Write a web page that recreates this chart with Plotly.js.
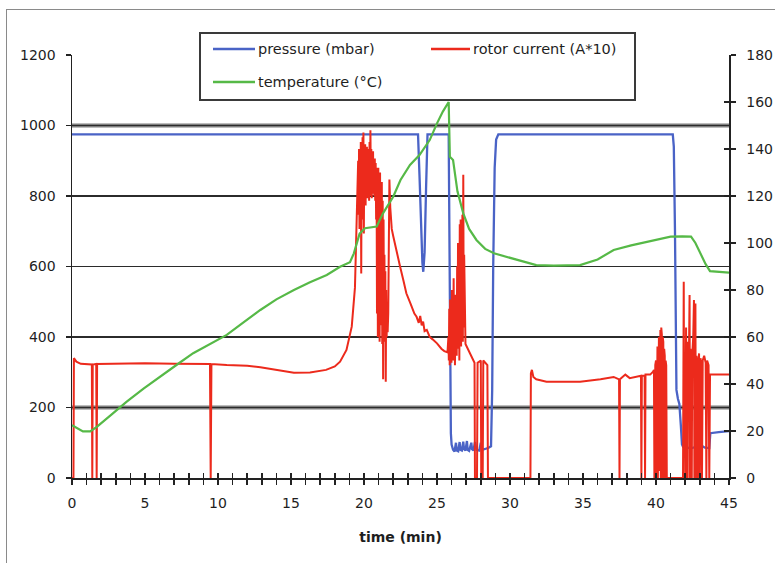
<!DOCTYPE html>
<html>
<head>
<meta charset="utf-8">
<script src="https://cdn.plot.ly/plotly-3.0.1.min.js"></script>
<style>
  html, body { margin: 0; padding: 0; background: #ffffff; }
  #frame { position: absolute; left: 6px; top: 9px; width: 800px; height: 600px;
           border-left: 1.5px solid #8a8a8a; border-top: 1.5px solid #8a8a8a; }
  #chart { position: absolute; left: 0; top: 0; width: 775px; height: 563px; }
</style>
</head>
<body>
<div id="frame"></div>
<div id="chart"></div>
<script>
// ---------------- data ----------------
const seriesNames = ["pressure (mbar)", "rotor current (A*10)", "temperature (\u00B0C)"];
const xTitle = "time (min)";

// pressure (left axis, mbar)
const pressureT = [0, 23.7, 23.8, 23.9, 24.0, 24.06, 24.15, 24.25, 24.35,
  25.8, 25.85, 25.9, 25.95, 26.0, 26.1, 26.2, 26.3, 26.35, 26.45,
  26.55, 26.6, 26.7, 26.8, 26.85, 26.95, 27.05, 27.1, 27.2, 27.35,
  27.4, 27.5, 27.6, 27.7, 27.9, 28.0, 28.1, 28.3, 28.5, 28.7,
  28.78, 28.85, 28.95, 29.05, 29.2,
  41.15, 41.22, 41.3, 41.4, 41.5, 41.6, 41.7, 41.78, 41.85,
  42.1, 42.4, 42.7, 42.85, 43.0, 43.35, 43.65, 43.72, 44.3, 45];
const pressureV = [975, 975, 860, 700, 610, 585, 640, 820, 975,
  975, 700, 300, 127, 95, 80, 75, 100, 78, 76,
  102, 80, 78, 103, 82, 78, 105, 80, 77, 100,
  82, 78, 102, 80, 78, 100, 80, 82, 85, 90,
  250, 600, 880, 960, 975,
  975, 940, 700, 250, 225, 210, 150, 95, 89,
  86, 84, 88, 130, 95, 86, 85, 127, 130, 133];

// temperature (right axis, deg C)
const tempT = [0, 0.75, 1.25, 1.7, 2.7, 3.75, 4.9, 6.0, 7.2, 8.3,
  9.5, 10.6, 11.7, 12.9, 14.0, 15.2, 16.3, 17.45, 18.36, 19.04,
  19.3, 19.7, 20.07, 20.5, 20.87, 21.3, 22.0, 22.5, 23.15, 23.8,
  24.5, 25.0, 25.4, 25.8, 25.88, 26.1, 26.4, 26.8, 27.2, 27.7,
  28.3, 28.9, 30.2, 31.8, 33.0, 34.8, 36.0, 37.1, 38.3, 39.4,
  40.3, 41.0, 41.8, 42.4, 42.7, 43.0, 43.4, 43.7, 45];
const tempV = [22.5, 19.8, 19.8, 21.8, 27, 32.5, 38, 43.1, 48.3, 53.1,
  57, 60.9, 66, 71.5, 76, 80, 83.3, 86.4, 89.9, 91.8,
  95.5, 104, 106.3, 106.8, 107, 112.6, 119.7, 126.8, 133.2, 137.4,
  143.8, 150.9, 155.9, 160, 136.7, 135.3, 122, 112.6, 106, 101.3,
  97.5, 95.6, 93.5, 90.6, 90.4, 90.6, 93, 97, 99, 100.6,
  102, 102.7, 102.8, 102.7, 100, 96, 91, 88, 87.4];

// rotor current (right axis, A*10)
const currentT = [
  0, 0.1, 0.13, 0.3, 0.6, 1.0, 1.36, 1.39, 1.42, 1.66,
  1.69, 1.72, 3, 5, 7, 9.45, 9.5, 9.55, 10.6, 12.0,
  12.9, 14.0, 15.2, 16.3, 17.4, 18.0, 18.36, 18.8, 19.16, 19.38,
  19.5, 19.6,
  19.63, 19.66, 19.69, 19.72, 19.75, 19.78, 19.81, 19.84, 19.87, 19.90,
  19.93, 19.96, 19.99, 20.02, 20.05, 20.08, 20.11, 20.14, 20.17, 20.20,
  20.23, 20.26, 20.29, 20.32, 20.35, 20.38, 20.41, 20.44, 20.47, 20.50,
  20.53, 20.56, 20.59, 20.62, 20.65, 20.68, 20.71, 20.74, 20.77, 20.80,
  20.83, 20.86,
  20.89, 20.92, 20.95, 20.98, 21.01, 21.04, 21.07, 21.10, 21.13, 21.16,
  21.19, 21.22, 21.25, 21.28, 21.31, 21.34, 21.37, 21.40, 21.43, 21.46,
  21.49, 21.52, 21.55, 21.58, 21.62, 21.66, 21.70, 21.74,
  21.8, 21.9, 22.0, 22.2, 22.47, 22.7, 22.9, 23.2, 23.45, 23.6,
  23.75, 23.85, 23.95, 24.05, 24.15, 24.3, 24.5, 24.7, 25.0, 25.3,
  25.5, 25.72,
  25.78, 25.81, 25.84, 25.87, 25.90, 25.93, 25.96, 25.99, 26.02, 26.05,
  26.08, 26.11, 26.14, 26.17, 26.20, 26.23, 26.26, 26.29, 26.32, 26.35,
  26.38, 26.41, 26.44, 26.47, 26.50, 26.53, 26.56, 26.59, 26.62, 26.65,
  26.68, 26.71, 26.74, 26.77, 26.80, 26.83, 26.86,
  26.95, 27.1, 27.26, 27.5, 27.57, 27.6, 27.74, 27.78, 28.0, 28.03,
  28.13, 28.17, 28.45, 28.49, 31.4, 31.43, 31.5, 31.6, 31.8, 32.5,
  34.8, 36.2, 37.1, 37.47, 37.5, 37.53, 37.9, 38.2, 38.6, 38.97,
  39.0, 39.03, 39.22, 39.25, 39.28, 39.6, 39.8, 39.86,
  39.89, 39.92, 39.95, 40.0, 40.03, 40.06, 40.1, 40.13, 40.16, 40.2,
  40.23, 40.26, 40.3, 40.33, 40.36, 40.4, 40.43, 40.46, 40.5, 40.53,
  40.56, 40.6, 40.63, 40.66, 40.7, 40.74, 41.85,
  41.9, 41.93, 41.96, 42.0, 42.03, 42.06, 42.1, 42.13, 42.17, 42.2,
  42.25, 42.3, 42.33, 42.36, 42.4, 42.45, 42.48, 42.55, 42.6, 42.63,
  42.67, 42.7, 42.73, 42.77, 42.82, 42.86, 42.9, 42.95, 43.0, 43.05,
  43.1, 43.15, 43.2, 43.3, 43.4, 43.45, 43.5, 43.6, 43.65, 43.7,
  45];
const currentV = [
  0, 0, 51, 49.5, 48.6, 48.4, 48.3, 0, 48.3, 48.5,
  0, 48.5, 48.7, 48.8, 48.6, 48.5, 0, 48.5, 48.1, 47.8,
  47.1, 46, 44.8, 44.9, 46, 47.5, 49.5, 54.5, 64.4, 81,
  111, 135,
  112, 140, 106, 138, 118, 143, 87, 140, 110, 145,
  115, 147, 104, 138, 120, 142, 116, 139, 121, 141,
  119, 136, 122, 140, 118, 143, 120, 148, 124, 140,
  119, 137, 121, 139, 122, 135, 120, 136, 118, 134,
  110, 132,
  70, 128, 60, 132, 75, 125, 58, 130, 65, 120,
  80, 126, 57, 118, 42, 110, 62, 95, 58, 88,
  41, 80, 60, 75, 62, 70, 100, 127,
  115, 106, 103, 97, 90, 84, 78.6, 74, 70, 68.6,
  66, 69, 65, 66.5, 62.5, 63, 60, 59, 57.3, 55,
  54, 53.5,
  60, 50, 72, 48, 76, 52, 70, 49, 80, 55,
  74, 50, 85, 53, 72, 48, 78, 56, 70, 52,
  90, 55, 100, 58, 95, 50, 108, 60, 110, 56,
  104, 62, 112, 58, 129, 64, 95,
  57, 55, 53, 50, 49, 0, 0, 49, 50, 0,
  0, 50, 48, 0, 0, 44.5, 46, 43, 42, 41,
  41, 42, 43, 42, 0, 42, 44, 42.5, 43, 43.5,
  0, 43.5, 43.5, 0, 44, 44, 45.2, 46,
  0, 0, 48, 50, 0, 52, 56, 0, 58, 60,
  3, 62, 63, 0, 64, 61, 0, 60, 58, 0,
  55, 52, 0, 50, 48, 0, 0,
  83.5, 10, 50, 0, 55, 64, 0, 52, 0, 58,
  48, 77.9, 0, 55, 50, 0, 52, 60, 75.7, 0,
  50, 74.3, 0, 52, 48, 0, 50, 53, 0, 51,
  48, 0, 50, 52, 49, 0, 50, 48, 0, 44,
  44];

const leftTicks = [0, 200, 400, 600, 800, 1000, 1200];
const rightTicks = [0, 20, 40, 60, 80, 100, 120, 140, 160, 180];

// ---------------- styling ----------------
const BLUE = '#4a63c6', RED = '#ec2a1c', GREEN = '#56b947';
const W = 775, H = 563, ML = 72, MR = 46, MT = 55, MB = 85;
const PW = W - ML - MR, PH = H - MT - MB;
const px = x => (x - ML) / PW;           // pixel -> paper x
const py = y => (H - MB - y) / PH;       // pixel -> paper y

const traces = [
  { x: pressureT, y: pressureV, name: seriesNames[0], type: 'scatter', mode: 'lines',
    line: { color: BLUE, width: 2.3 }, xaxis: 'x', yaxis: 'y', hoverinfo: 'skip' },
  { x: currentT, y: currentV, name: seriesNames[1], type: 'scatter', mode: 'lines',
    line: { color: RED, width: 2 }, xaxis: 'x', yaxis: 'y2', hoverinfo: 'skip' },
  { x: tempT, y: tempV, name: seriesNames[2], type: 'scatter', mode: 'lines',
    line: { color: GREEN, width: 2.2 }, xaxis: 'x', yaxis: 'y2', hoverinfo: 'skip' },
  // carrier for the inner halves of the crossing ticks
  { x: [null], y: [null], xaxis: 'x2', yaxis: 'y3', type: 'scatter', mode: 'lines',
    showlegend: false, hoverinfo: 'skip' }
];

const tickStyle = { ticklen: 5, tickwidth: 1.5, tickcolor: '#222' };
const axisFont = { family: 'DejaVu Sans', size: 14, color: '#1e1e1e' };

const legendFont = { family: 'DejaVu Sans', size: 14.5, color: '#1e1e1e' };
const legendRows = [
  { name: seriesNames[0], color: BLUE,  lx0: 213, lx1: 255, tx: 257, y: 49 },
  { name: seriesNames[1], color: RED,   lx0: 431, lx1: 470, tx: 472, y: 49 },
  { name: seriesNames[2], color: GREEN, lx0: 213, lx1: 255, tx: 257, y: 82 }
];

const shapes = [
  { type: 'line', xref: 'paper', yref: 'y', x0: 0, x1: 1, y0: 1000, y1: 1000,
    line: { color: '#7d7d7d', width: 4 }, layer: 'between' },
  { type: 'line', xref: 'paper', yref: 'y', x0: 0, x1: 1, y0: 200, y1: 200,
    line: { color: '#7d7d7d', width: 4 }, layer: 'between' },
  { type: 'rect', xref: 'paper', yref: 'paper', x0: px(200), x1: px(635), y0: py(100), y1: py(33),
    fillcolor: '#ffffff', line: { color: '#3a3a3a', width: 2 }, layer: 'above' }
];
const annotations = [];
legendRows.forEach(r => {
  shapes.push({ type: 'line', xref: 'paper', yref: 'paper', x0: px(r.lx0), x1: px(r.lx1),
    y0: py(r.y), y1: py(r.y), line: { color: r.color, width: 2.5 }, layer: 'above' });
  annotations.push({ xref: 'paper', yref: 'paper', x: px(r.tx), y: py(r.y), text: r.name,
    showarrow: false, xanchor: 'left', yanchor: 'middle', font: legendFont, borderpad: 0 });
});

const layout = {
  width: W, height: H,
  margin: { l: ML, r: MR, t: MT, b: MB },
  paper_bgcolor: 'rgba(0,0,0,0)', plot_bgcolor: 'rgba(0,0,0,0)',
  showlegend: false,
  font: axisFont,
  xaxis: Object.assign({
    range: [0, 45], tick0: 0, dtick: 5, ticks: 'outside',
    minor: { dtick: 1, ticks: 'outside', ticklen: 5, tickwidth: 1.5, tickcolor: '#222', showgrid: false },
    showline: true, linecolor: '#222', linewidth: 2, showgrid: false, zeroline: false,
    ticklabelstandoff: 6, tickfont: axisFont,
    title: { text: '<b>' + xTitle + '</b>', font: { family: 'DejaVu Sans', size: 14, color: '#1e1e1e' }, standoff: 22 }
  }, tickStyle),
  xaxis2: Object.assign({
    overlaying: 'x', anchor: 'y', side: 'bottom', range: [0, 45], tick0: 0, dtick: 1,
    ticks: 'inside', showticklabels: false, showgrid: false, zeroline: false, showline: false
  }, tickStyle),
  yaxis: Object.assign({
    range: [0, 1200], tickvals: leftTicks, ticks: 'outside',
    showline: true, linecolor: '#222', linewidth: 1.5,
    showgrid: true, gridcolor: '#2b2b2b', gridwidth: 1.5, zeroline: false,
    ticklabelstandoff: 7, tickfont: axisFont
  }, tickStyle),
  yaxis2: Object.assign({
    overlaying: 'y', anchor: 'x', side: 'right', range: [0, 180], tickvals: rightTicks,
    ticks: 'outside', showline: true, linecolor: '#222', linewidth: 1.5,
    showgrid: false, zeroline: false, ticklabelstandoff: 8, tickfont: axisFont
  }, tickStyle),
  yaxis3: Object.assign({
    overlaying: 'y', anchor: 'x', side: 'right', range: [0, 180], tickvals: rightTicks,
    ticks: 'inside', showticklabels: false, showgrid: false, zeroline: false, showline: false
  }, tickStyle),
  shapes: shapes,
  annotations: annotations
};

Plotly.newPlot('chart', traces, layout, { staticPlot: true, displayModeBar: false });
</script>
</body>
</html>
